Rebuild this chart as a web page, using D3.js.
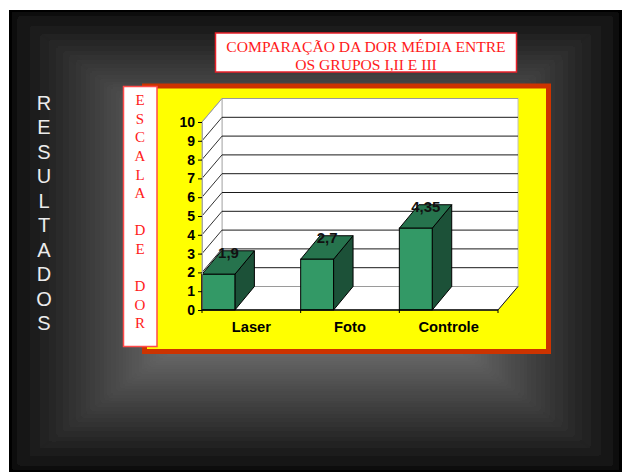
<!DOCTYPE html>
<html>
<head>
<meta charset="utf-8">
<script src="https://cdn.jsdelivr.net/npm/d3@7"></script>
<style>
  html, body { margin: 0; padding: 0; background: #fff; }
  svg { display: block; }
  .tick text { font-family: "Liberation Sans", Arial, sans-serif; font-weight: bold; fill: #000; }
</style>
</head>
<body>
<div id="chart"></div>
<script>
const categories = ["Laser", "Foto", "Controle"];
const painValues = [1.9, 2.7, 4.35];
const valueLabels = ["1,9", "2,7", "4,35"];
const yTicks = [0, 1, 2, 3, 4, 5, 6, 7, 8, 9, 10];
const titleLines = ["COMPARAÇÃO DA DOR MÉDIA ENTRE", "OS GRUPOS I,II E III"];
const sideLetters = ["R", "E", "S", "U", "L", "T", "A", "D", "O", "S"];
const scaleLetters = ["E", "S", "C", "A", "L", "A", "", "D", "E", "", "D", "O", "R"];
const shadeOffsets = [0, 0.03, 1];
const shadeColors = ["#000000", "#131313", "#bcbcbc"];

const width = 622, height = 472;
const svg = d3.select("#chart").append("svg")
  .attr("width", width).attr("height", height);
const defs = svg.append("defs");

// Slide background: a rectangular gradient, dark at the edges and light at the middle
const slide = { x0: 9, y0: 10, x1: 622, y1: 472 };
const centre = { x: (slide.x0 + slide.x1) / 2, y: (slide.y0 + slide.y1) / 2 };
const corners = {
  tl: [slide.x0, slide.y0], tr: [slide.x1, slide.y0],
  br: [slide.x1, slide.y1], bl: [slide.x0, slide.y1]
};
const sides = [
  { id: "top", a: corners.tl, b: corners.tr, from: [centre.x, slide.y0] },
  { id: "right", a: corners.tr, b: corners.br, from: [slide.x1, centre.y] },
  { id: "bottom", a: corners.br, b: corners.bl, from: [centre.x, slide.y1] },
  { id: "left", a: corners.bl, b: corners.tl, from: [slide.x0, centre.y] }
];
defs.append("clipPath").attr("id", "slide-clip").append("rect")
  .attr("x", slide.x0).attr("y", slide.y0)
  .attr("width", slide.x1 - slide.x0).attr("height", slide.y1 - slide.y0);
// A slight softening keeps the diagonal joins between the four faces from reading as hard seams
const soft = defs.append("filter").attr("id", "soft")
  .attr("filterUnits", "userSpaceOnUse")
  .attr("x", 0).attr("y", 0).attr("width", width).attr("height", height);
soft.append("feGaussianBlur").attr("stdDeviation", 2);
const bgClip = svg.append("g").attr("clip-path", "url(#slide-clip)");
bgClip.append("rect").attr("x", slide.x0).attr("y", slide.y0)
  .attr("width", slide.x1 - slide.x0).attr("height", slide.y1 - slide.y0).attr("fill", "#000");
const bg = bgClip.append("g").attr("filter", "url(#soft)");
sides.forEach(s => {
  const g = defs.append("linearGradient").attr("id", "bg-" + s.id)
    .attr("gradientUnits", "userSpaceOnUse")
    .attr("x1", s.from[0]).attr("y1", s.from[1])
    .attr("x2", centre.x).attr("y2", centre.y);
  shadeOffsets.forEach((o, i) => {
    g.append("stop").attr("offset", o).attr("stop-color", shadeColors[i]);
  });
  bg.append("polygon")
    .attr("points", [s.a, s.b, [centre.x, centre.y]].map(p => p.join(",")).join(" "))
    .attr("fill", `url(#bg-${s.id})`)
    .attr("stroke", `url(#bg-${s.id})`).attr("stroke-width", 0.5);
});

// Vertical slide heading
svg.append("g").selectAll("text").data(sideLetters).join("text")
  .attr("x", 44).attr("y", (d, i) => 102.5 + i * 24.5)
  .attr("dy", "0.36em").attr("text-anchor", "middle")
  .attr("font-family", "'Liberation Sans', Arial, sans-serif")
  .attr("font-size", 20).attr("fill", "#ececec")
  .text(d => d);

// Framed yellow panel behind the plot
svg.append("rect").attr("x", 144.5).attr("y", 86).attr("width", 404).attr("height", 265.5)
  .attr("fill", "#ffff00").attr("stroke", "#cc3300").attr("stroke-width", 5);

// Title box
svg.append("rect").attr("x", 215.5).attr("y", 33).attr("width", 301).attr("height", 39)
  .attr("fill", "#fff").attr("stroke", "#e8202a").attr("stroke-width", 1.5);
svg.append("g").selectAll("text").data(titleLines).join("text")
  .attr("x", 366).attr("y", (d, i) => 46.7 + i * 18)
  .attr("dy", "0.34em").attr("text-anchor", "middle")
  .attr("font-family", "'Liberation Serif', 'Times New Roman', serif")
  .attr("font-size", 15.6).attr("fill", "#ff1a1a")
  .text(d => d);

// Y axis title box
svg.append("rect").attr("x", 123.5).attr("y", 86.5).attr("width", 33.5).attr("height", 260)
  .attr("fill", "#fff").attr("stroke", "#ff4a4a").attr("stroke-width", 1.5);
svg.append("g").selectAll("text").data(scaleLetters).join("text")
  .attr("x", 140).attr("y", (d, i) => 100 + i * 18.6)
  .attr("dy", "0.34em").attr("text-anchor", "middle")
  .attr("font-family", "'Liberation Serif', 'Times New Roman', serif")
  .attr("font-size", 15).attr("fill", "#ff1a1a")
  .text(d => d);

// Plot scales and the pseudo-3D depth offset
const x = d3.scaleBand().domain(categories).range([202, 498]);
const y = d3.scaleLinear().domain([0, 10]).range([310, 122]);
const wallDx = 20, wallDy = -23.5;
const barDx = 19.5, barDy = -23.5;
const barWidth = x.bandwidth() / 3;
const pts = a => a.map(p => p.join(",")).join(" ");

const plot = svg.append("g");
const xEnd = x.range()[1];
const xStart = x.range()[0];

// Back wall, side wall and floor
plot.append("rect")
  .attr("x", xStart + wallDx).attr("y", y(10) + wallDy)
  .attr("width", xEnd - xStart).attr("height", y(0) - y(10))
  .attr("fill", "#fff").attr("stroke", "#c0c0c0");
plot.append("polygon")
  .attr("points", pts([[xStart, y(0)], [xStart + wallDx, y(0) + wallDy], [xStart + wallDx, y(10) + wallDy], [xStart, y(10)]]))
  .attr("fill", "#fff").attr("stroke", "#b0b0b0");
plot.append("polygon")
  .attr("points", pts([[xStart, y(0)], [xEnd, y(0)], [xEnd + wallDx, y(0) + wallDy], [xStart + wallDx, y(0) + wallDy]]))
  .attr("fill", "#fff").attr("stroke", "#c0c0c0");

// Gridlines across the back wall and the side wall
const grid = plot.append("g");
grid.selectAll("line.back").data(yTicks).join("line").attr("class", "back")
  .attr("x1", xStart + wallDx).attr("x2", xEnd + wallDx)
  .attr("y1", d => y(d) + wallDy).attr("y2", d => y(d) + wallDy)
  .attr("stroke", d => (d === 0 || d === 10) ? "#9a9a9a" : "#1a1a1a").attr("stroke-width", 1);
grid.selectAll("line.side").data(yTicks.filter(d => d > 0)).join("line").attr("class", "side")
  .attr("x1", xStart).attr("x2", xStart + wallDx)
  .attr("y1", d => y(d)).attr("y2", d => y(d) + wallDy)
  .attr("stroke", d => d === 10 ? "#9a9a9a" : "#1a1a1a").attr("stroke-width", 0.9);
plot.append("line")
  .attr("x1", xEnd).attr("y1", y(0)).attr("x2", xEnd + wallDx).attr("y2", y(0) + wallDy)
  .attr("stroke", "#000").attr("stroke-width", 0.9);

// Bars: front, side and top faces
const bars = plot.selectAll("g.bar").data(categories).join("g").attr("class", "bar");
const vOf = i => painValues[i];
bars.append("polygon")
  .attr("points", (c, i) => {
    const l = x(c) + barWidth, t = y(vOf(i)), b = y(0);
    return pts([[l, b], [l + barDx, b + barDy], [l + barDx, t + barDy], [l, t]]);
  })
  .attr("fill", "#1c5138").attr("stroke", "#000").attr("stroke-width", 1);
bars.append("polygon")
  .attr("points", (c, i) => {
    const l = x(c), r = l + barWidth, t = y(vOf(i));
    return pts([[l, t], [r, t], [r + barDx, t + barDy], [l + barDx, t + barDy]]);
  })
  .attr("fill", "#26734d").attr("stroke", "#000").attr("stroke-width", 1);
bars.append("rect")
  .attr("x", c => x(c)).attr("width", barWidth)
  .attr("y", (c, i) => y(vOf(i))).attr("height", (c, i) => y(0) - y(vOf(i)))
  .attr("fill", "#339966").attr("stroke", "#000").attr("stroke-width", 1);

// Value axis: the spine is the pale front edge of the side wall
const yAxis = d3.axisLeft(y).tickValues(yTicks).tickFormat(d3.format("d"))
  .tickSizeInner(4).tickSizeOuter(0).tickPadding(3);
const yG = svg.append("g").attr("transform", `translate(${xStart},0)`).call(yAxis);
yG.select(".domain").attr("stroke", "#a8a8a8");
yG.selectAll(".tick text").attr("font-size", 14);

// Category axis: labels sit mid-band, ticks mark the band boundaries
const xAxis = d3.axisBottom(x).tickSize(0).tickPadding(12);
const xG = svg.append("g").attr("transform", `translate(0,${y(0)})`).call(xAxis);
xG.select(".domain").remove();
xG.selectAll(".tick text").attr("font-size", 14.7);
svg.append("line").attr("x1", xStart).attr("x2", xEnd).attr("y1", y(0)).attr("y2", y(0))
  .attr("stroke", "#000").attr("stroke-width", 1.5);
svg.append("g").selectAll("line").data([...categories.map(c => x(c)), xEnd]).join("line")
  .attr("x1", d => d).attr("x2", d => d)
  .attr("y1", y(0)).attr("y2", y(0) + 3)
  .attr("stroke", "#000");

// Bars were drawn before the axis spine, so restore the first bar's left edge
svg.append("line")
  .attr("x1", x(categories[0])).attr("x2", x(categories[0]))
  .attr("y1", y(painValues[0])).attr("y2", y(0))
  .attr("stroke", "#000");

// Value labels above the bars
svg.append("g").selectAll("text").data(categories).join("text")
  .attr("x", c => x(c) + 26.5)
  .attr("y", (c, i) => y(vOf(i)) - 22)
  .attr("dy", "0.36em").attr("text-anchor", "middle")
  .attr("font-family", "'Liberation Sans', Arial, sans-serif")
  .attr("font-size", 15).attr("font-weight", "bold").attr("fill", "#111")
  .text((c, i) => valueLabels[i]);
</script>
</body>
</html>
